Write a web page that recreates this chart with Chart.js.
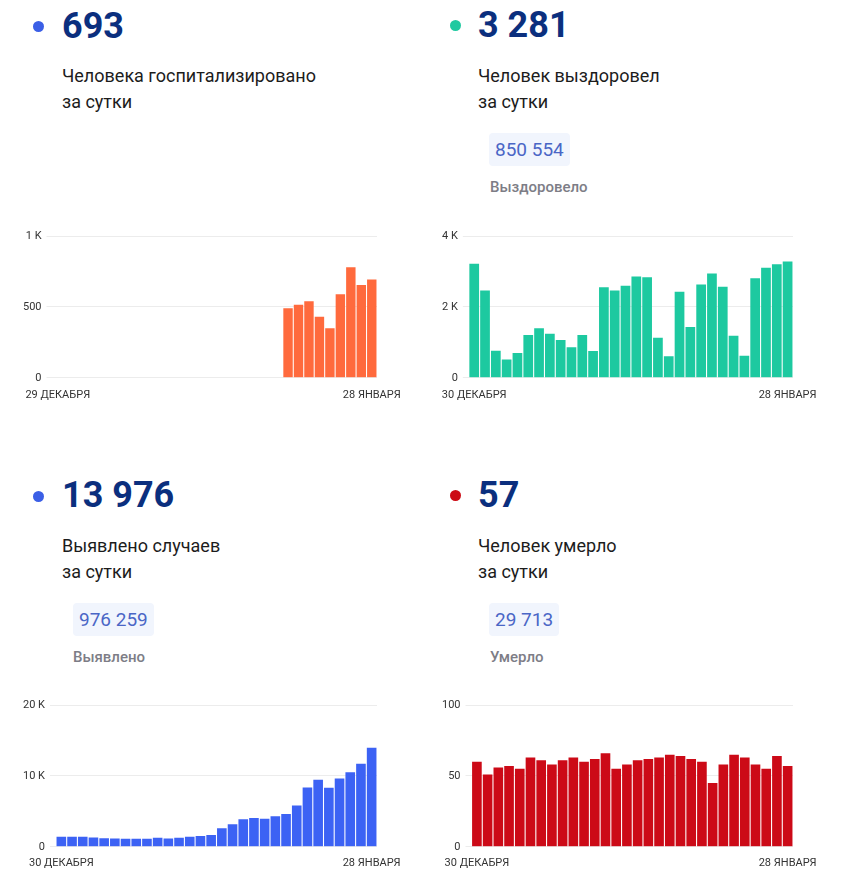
<!DOCTYPE html>
<html lang="ru">
<head>
<meta charset="utf-8">
<title>Коронавирус: статистика за сутки</title>
<script src="https://cdn.jsdelivr.net/npm/chart.js@4.4.1/dist/chart.umd.min.js"></script>
<style>
  body { margin: 0; background: #fff; font-family: Roboto, "Noto Sans", Arial, sans-serif; }
  .page { position: relative; width: 855px; height: 873px; overflow: hidden; }
  .dot { position: absolute; width: 11px; height: 11px; border-radius: 50%; }
  .num { position: absolute; font-size: 36px; line-height: 36px; font-weight: 700; color: #0b2f7e; white-space: nowrap; }
  .desc { position: absolute; font-size: 18px; line-height: 26px; color: #1c1c1c; white-space: nowrap; }
  .total { position: absolute; height: 33px; line-height: 33px; padding: 0 6px; font-size: 19px; color: #4a66c6; background: #f1f5fd; border-radius: 4px; }
  .total-label { position: absolute; font-size: 15px; line-height: 18px; font-weight: 500; color: #7d7d86; white-space: nowrap; }
  .chart { position: absolute; }
</style>
</head>
<body>
<div class="page">
  <!-- госпитализированы -->
  <div class="dot" style="left:33px; top:21px; background:#3b5fe6;"></div>
  <div class="num" style="left:62px; top:8px;">693</div>
  <div class="desc" style="left:62px; top:63px;">Человека госпитализировано<br>за сутки</div>
  <div class="chart" style="left:0; top:220px; width:420px; height:202px;"><canvas id="chart-hosp"></canvas></div>

  <!-- выздоровели -->
  <div class="dot" style="left:450px; top:20px; background:#1fc9a0;"></div>
  <div class="num" style="left:478px; top:7px;">3 281</div>
  <div class="desc" style="left:478px; top:63px;">Человек выздоровел<br>за сутки</div>
  <div class="total" style="left:489px; top:133px;">850 554</div>
  <div class="total-label" style="left:490px; top:178px;">Выздоровело</div>
  <div class="chart" style="left:420px; top:220px; width:420px; height:202px;"><canvas id="chart-rec"></canvas></div>

  <!-- выявлено -->
  <div class="dot" style="left:33px; top:491px; background:#3b5fe6;"></div>
  <div class="num" style="left:62px; top:477px;">13 976</div>
  <div class="desc" style="left:62px; top:533px;">Выявлено случаев<br>за сутки</div>
  <div class="total" style="left:73px; top:603px;">976 259</div>
  <div class="total-label" style="left:73px; top:648px;">Выявлено</div>
  <div class="chart" style="left:0; top:690px; width:420px; height:190px;"><canvas id="chart-det"></canvas></div>

  <!-- умерли -->
  <div class="dot" style="left:450px; top:490px; background:#cc0a14;"></div>
  <div class="num" style="left:478px; top:477px;">57</div>
  <div class="desc" style="left:478px; top:533px;">Человек умерло<br>за сутки</div>
  <div class="total" style="left:489px; top:603px;">29 713</div>
  <div class="total-label" style="left:490px; top:648px;">Умерло</div>
  <div class="chart" style="left:420px; top:690px; width:420px; height:190px;"><canvas id="chart-death"></canvas></div>
</div>

<script>
// даты по оси X (30 декабря - 28 января)
const days = [
  "30 ДЕКАБРЯ", "31 ДЕКАБРЯ", "1 ЯНВАРЯ", "2 ЯНВАРЯ", "3 ЯНВАРЯ", "4 ЯНВАРЯ",
  "5 ЯНВАРЯ", "6 ЯНВАРЯ", "7 ЯНВАРЯ", "8 ЯНВАРЯ", "9 ЯНВАРЯ", "10 ЯНВАРЯ",
  "11 ЯНВАРЯ", "12 ЯНВАРЯ", "13 ЯНВАРЯ", "14 ЯНВАРЯ", "15 ЯНВАРЯ", "16 ЯНВАРЯ",
  "17 ЯНВАРЯ", "18 ЯНВАРЯ", "19 ЯНВАРЯ", "20 ЯНВАРЯ", "21 ЯНВАРЯ", "22 ЯНВАРЯ",
  "23 ЯНВАРЯ", "24 ЯНВАРЯ", "25 ЯНВАРЯ", "26 ЯНВАРЯ", "27 ЯНВАРЯ", "28 ЯНВАРЯ",
];
// у графика госпитализаций на день больше
const hospDays = ["29 ДЕКАБРЯ", ...days];

const hospitalized = [
  null, null, null, null, null, null, null, null, null, null, null,
  null, null, null, null, null, null, null, null, null, null, null,
  490, 515, 540, 430, 350, 590, 780, 655, 693,
];
const recovered = [
  3220, 2460, 765, 515, 700, 1205, 1400, 1240, 1065, 860, 1210, 755, 2555, 2460, 2600,
  2860, 2835, 1130, 605, 2425, 1435, 2630, 2945, 2565, 1185, 625, 2805, 3105, 3205, 3281,
];
const detected = [
  1400, 1400, 1400, 1310, 1215, 1170, 1120, 1120, 1120, 1260, 1170, 1260, 1400, 1540, 1680,
  2620, 3180, 3880, 4065, 3970, 4300, 4625, 5840, 8365, 9440, 8320, 9625, 10515, 11730, 13976,
];
const deaths = [
  60, 51, 56, 57, 55, 63, 61, 58, 61, 63, 60, 62, 66, 55, 58,
  61, 62, 63, 65, 64, 62, 60, 45, 58, 65, 63, 58, 55, 64, 57,
];

// деления оси Y
const hospTicks = [0, 500, 1000];
const hospTickLabels = ["0", "500", "1 K"];
const recTicks = [0, 2000, 4000];
const recTickLabels = ["0", "2 K", "4 K"];
const detTicks = [0, 10000, 20000];
const detTickLabels = ["0", "10 K", "20 K"];
const deathTicks = [0, 50, 100];
const deathTickLabels = ["0", "50", "100"];

Chart.defaults.font.family = "Roboto, 'Noto Sans', Arial, sans-serif";
Chart.defaults.font.size = 11;
Chart.defaults.color = "#333";
Chart.defaults.animation = false;

function makeChart(id, labels, values, color, ticks, tickLabels, padding, xPad) {
  const ctx = document.getElementById(id).getContext("2d");
  return new Chart(ctx, {
    type: "bar",
    data: {
      labels: labels,
      datasets: [
        {
          data: values,
          backgroundColor: color,
          barPercentage: 0.9,
          categoryPercentage: 1,
        },
      ],
    },
    options: {
      responsive: true,
      maintainAspectRatio: false,
      layout: { padding: padding },
      plugins: {
        legend: { display: false },
        tooltip: { enabled: false },
      },
      scales: {
        x: {
          grid: { display: false, drawTicks: false },
          border: { display: false },
          ticks: {
            autoSkip: false,
            maxRotation: 0,
            padding: xPad,
            // подписываем только первый и последний день
            callback: (v, i) => (i === 0 || i === labels.length - 1 ? labels[i] : ""),
          },
        },
        y: {
          min: ticks[0],
          max: ticks[ticks.length - 1],
          afterBuildTicks: (axis) => {
            axis.ticks = ticks.map((t) => ({ value: t }));
          },
          grid: { color: "#ececec", tickLength: 6 },
          border: { display: false },
          ticks: {
            padding: 5,
            callback: (v, i) => tickLabels[i],
          },
        },
      },
    },
  });
}

makeChart("chart-hosp", hospDays, hospitalized, "#ff6a3d", hospTicks, hospTickLabels,
  { left: 18, right: 43, top: 16, bottom: 9 }, 11);
makeChart("chart-rec", days, recovered, "#1dc9a0", recTicks, recTickLabels,
  { left: 17, right: 47, top: 16, bottom: 9 }, 11);
makeChart("chart-det", days, detected, "#3c62f4", detTicks, detTickLabels,
  { left: 18, right: 43, top: 15, bottom: 0 }, 10);
makeChart("chart-death", days, deaths, "#cc0a17", deathTicks, deathTickLabels,
  { left: 17, right: 47, top: 15, bottom: 0 }, 10);
</script>
</body>
</html>
